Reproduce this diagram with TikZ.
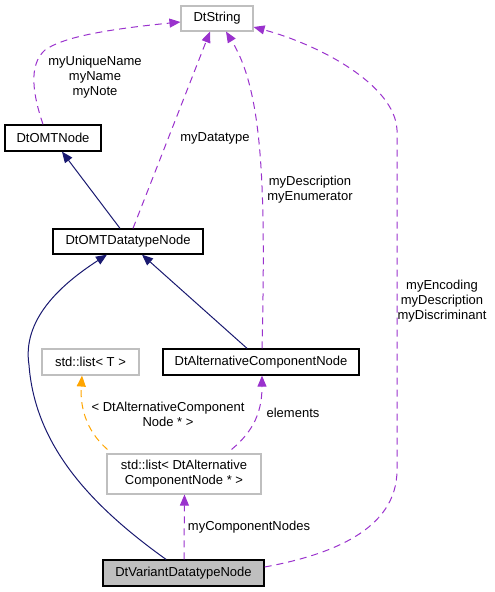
\documentclass[tikz,border=0pt]{standalone}
\usepackage{fontspec}
\setmainfont{Liberation Sans}
\usetikzlibrary{arrows.meta}
\definecolor{navyc}{HTML}{191970}
\definecolor{purp}{HTML}{9A32CD}
\definecolor{orng}{HTML}{FFA500}
\definecolor{greyb}{HTML}{BFBFBF}
\begin{document}
\begin{tikzpicture}[x=1pt,y=-1pt,
  every node/.style={font=\fontsize{13}{15}\selectfont},
  cls/.style={draw=black,line width=1.3pt,inner sep=0pt,minimum height=26pt,align=center},
  ext/.style={draw=greyb,line width=1.1pt,inner sep=0pt,minimum height=26pt,align=center},
  tip/.style={-{Triangle[length=11pt,width=9pt]}},
  inh/.style={tip,navyc,line width=1pt},
  usg/.style={tip,purp,line width=1pt,dash pattern=on 7pt off 5pt},
  tmpl/.style={tip,orng,line width=1pt,dash pattern=on 7pt off 5pt},
  lbl/.style={align=center,inner sep=0pt}]
\useasboundingbox (0,0) rectangle (495,592);

\node[ext,minimum width=72pt,minimum height=25pt] (str) at (217,18.5) {DtString};
\node[cls,minimum width=96pt] (omt) at (53,138) {DtOMTNode};
\node[cls,minimum width=150pt,minimum height=25pt] (dtn) at (128,241.5) {DtOMTDatatypeNode};
\node[cls,minimum width=196pt] (alt) at (261,362) {DtAlternativeComponentNode};
\node[ext,minimum width=97pt] (lT) at (90.5,362) {std::list< T >};
\node[ext,minimum width=154pt,minimum height=40pt] (lAlt) at (184,474) {std::list< DtAlternative\\ComponentNode * >};
\node[cls,fill=greyb,minimum width=161pt] (var) at (183.5,573) {DtVariantDatatypeNode};

% DtOMTNode -> DtString
\draw[usg] ([xshift=-10pt]omt.north) .. controls (33,95) and (28,65) .. (45,50)
  .. controls (62,38) and (100,30) .. ([yshift=-3.5pt]str.west);
\node[lbl] (l1) at (95,77) {myUniqueName\\myName\\myNote};

% DtOMTDatatypeNode -> DtOMTNode
\draw[inh] ([xshift=-8pt]dtn.north) -- ([xshift=9pt]omt.south);

% DtOMTDatatypeNode -> DtString
\draw[usg] ([xshift=5pt]dtn.north) -- ([xshift=-7pt]str.south);
\node[lbl] (l2) at (215,138) {myDatatype};

% DtAlternativeComponentNode -> DtString
\draw[usg] ([xshift=1pt]alt.north) .. controls (266,180) and (262,90) .. ([xshift=9pt]str.south);
\node[lbl] (l3) at (310,190) {myDescription\\myEnumerator};

% DtVariantDatatypeNode -> DtString
\draw[usg] ([yshift=6pt]var.east) .. controls (330,555) and (397,530) .. (397,470)
  -- (397,130) .. controls (395,85) and (320,45) .. ([yshift=-8.5pt]str.east);
\node[lbl] (l4) at (442,301) {myEncoding\\myDescription\\myDiscriminant};

% DtVariantDatatypeNode -> DtOMTDatatypeNode
\draw[inh] ([xshift=-17.5pt]var.north) .. controls (90,505) and (35,445) .. (29,365)
  .. controls (22,320) and (60,285) .. ([xshift=-21pt]dtn.south);

% DtAlternativeComponentNode -> DtOMTDatatypeNode
\draw[inh] ([xshift=-14pt]alt.north) -- ([xshift=14pt]dtn.south);

% std::list<DtAlt> -> std::list<T>
\draw[tmpl] ([xshift=1pt,yshift=4pt]lAlt.north west) .. controls (85,430) and (80,405) .. ([xshift=-8.5pt]lT.south);
\node[lbl] (l5) at (168,414) {< DtAlternativeComponent\\Node * >};

% std::list<DtAlt> -> DtAlternativeComponentNode
\draw[usg] ([xshift=-30pt,yshift=4pt]lAlt.north east) .. controls (255,430) and (262,410) .. ([xshift=1pt]alt.south);
\node[lbl] (l6) at (293,413) {elements};

% DtVariantDatatypeNode -> std::list<DtAlt>
\draw[usg] ([xshift=0.5pt]var.north) -- ([xshift=0.5pt]lAlt.south);
\node[lbl] (l7) at (249,527) {myComponentNodes};
\end{tikzpicture}
\end{document}
